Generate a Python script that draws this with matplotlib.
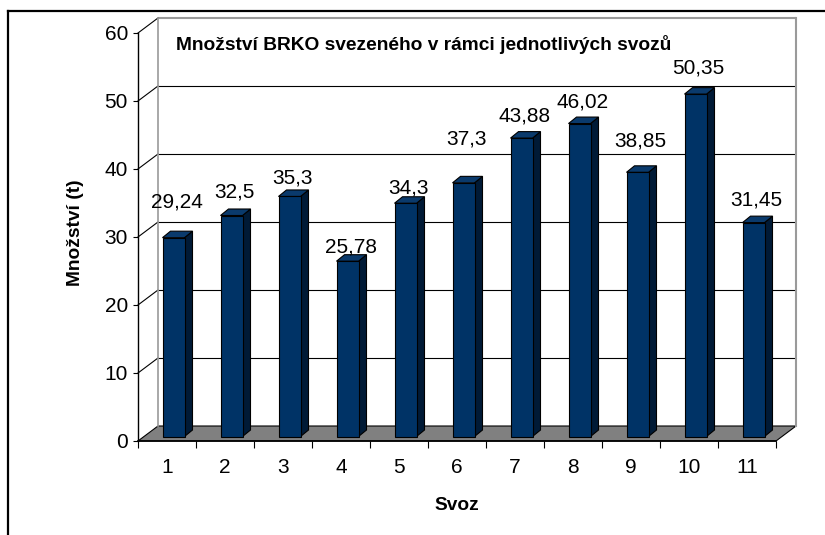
import matplotlib
matplotlib.use("Agg")
import matplotlib.pyplot as plt
from matplotlib.patches import Polygon
from matplotlib.lines import Line2D

# ---------------- data ----------------
categories = ["1", "2", "3", "4", "5", "6", "7", "8", "9", "10", "11"]
values = [29.24, 32.5, 35.3, 25.78, 34.3, 37.3, 43.88, 46.02, 38.85, 50.35, 31.45]
value_labels = ["29,24", "32,5", "35,3", "25,78", "34,3", "37,3", "43,88", "46,02", "38,85", "50,35", "31,45"]
y_ticks = [0, 10, 20, 30, 40, 50, 60]
title = "Množství BRKO svezeného v rámci jednotlivých svozů"
xlabel = "Svoz"
ylabel = "Množství (t)"

# label lift above bar front top (pixels), as placed in the original
label_lift_px = [30, 18.5, 13, 9, 10, 38, 17, 16, 26, 21, 17.6]

# ---------------- style / geometry ----------------
W, H = 825, 535
FONT = ["Liberation Sans", "DejaVu Sans"]
plt.rcParams["font.family"] = FONT
NUM_FS = 15

AX_L, AX_R, AX_T, AX_B = 138, 776, 33, 441   # pixel box of front axes
n = len(categories)
YMAX = 60
PX_PER_CAT = (AX_R - AX_L) / n
PX_PER_UNIT = (AX_B - AX_T) / YMAX


def dxp(p):
    return p / PX_PER_CAT


def dyp(p):
    return p / PX_PER_UNIT


WALL_DX, WALL_DY = 20, 15       # depth of the 3D box (px)
BAR_OFF_X, BAR_OFF_Y = 6.5, 4.5  # front of bar relative to front plane (px)
BAR_DX, BAR_DY = 8, 6.5         # bar depth (px)
BAR_W = 22                      # bar width (px)

FRONT = "#003366"
SIDE = "#001a36"
TOP = "#0a3a6c"
FLOOR = "#808080"
WALLEDGE = "#9a9a9a"

fig = plt.figure(figsize=(W / 100, H / 100), dpi=100)
ax = fig.add_axes([AX_L / W, (H - AX_B) / H, (AX_R - AX_L) / W, (AX_B - AX_T) / H])
ax.set_xlim(0.5, n + 0.5)
ax.set_ylim(0, YMAX)
ax.patch.set_visible(False)

x = list(range(1, n + 1))
wdx, wdy = dxp(WALL_DX), dyp(WALL_DY)

# floor
floor = Polygon([(0.5, 0), (n + 0.5, 0), (n + 0.5 + wdx, wdy), (0.5 + wdx, wdy)],
                closed=True, facecolor=FLOOR, edgecolor="black", lw=0.8,
                clip_on=False, zorder=1)
ax.add_patch(floor)

# back wall gridlines and side diagonals
for t in y_ticks:
    if t == 0:
        continue
    col = WALLEDGE if t == YMAX else "black"
    lw = 1.5 if t == YMAX else 0.8
    ax.plot([0.5 + wdx, n + 0.5 + wdx], [t + wdy, t + wdy], color=col, lw=lw,
            clip_on=False, zorder=2, solid_capstyle="butt")
    ax.plot([0.5, 0.5 + wdx], [t, t + wdy], color="black", lw=0.8, clip_on=False, zorder=2)
# wall vertical edges
ax.plot([0.5 + wdx, 0.5 + wdx], [wdy, YMAX + wdy], color=WALLEDGE, lw=1.2, clip_on=False, zorder=2)
ax.plot([n + 0.5 + wdx, n + 0.5 + wdx], [wdy, YMAX + wdy], color=WALLEDGE, lw=1.5, clip_on=False, zorder=2)

# bars (front faces)
bx = [xi + dxp(BAR_OFF_X) for xi in x]
base = dyp(BAR_OFF_Y)
bw = dxp(BAR_W)
ax.bar(bx, values, width=bw, bottom=base, color=FRONT, edgecolor="black", lw=0.8,
       zorder=5, clip_on=False)
bdx, bdy = dxp(BAR_DX), dyp(BAR_DY)
for xc, v in zip(bx, values):
    xl, xr = xc - bw / 2, xc + bw / 2
    side = Polygon([(xr, base), (xr + bdx, base + bdy), (xr + bdx, base + v + bdy), (xr, base + v)],
                   closed=True, facecolor=SIDE, edgecolor="black", lw=0.8, zorder=4, clip_on=False)
    top = Polygon([(xl, base + v), (xr, base + v), (xr + bdx, base + v + bdy), (xl + bdx, base + v + bdy)],
                  closed=True, facecolor=TOP, edgecolor="black", lw=0.8, zorder=4, clip_on=False)
    ax.add_patch(side)
    ax.add_patch(top)

# value labels
for xc, v, lab, lift in zip(bx, values, value_labels, label_lift_px):
    ax.annotate(lab, xy=(xc, base + v), xytext=(3 * 0.72, lift * 0.72),
                textcoords="offset points", ha="center", va="baseline",
                fontsize=NUM_FS, color="black", zorder=6)

# axes spines / ticks
for s in ["top", "right"]:
    ax.spines[s].set_visible(False)
ax.spines["left"].set_color("black")
ax.spines["bottom"].set_color("black")
ax.spines["left"].set_linewidth(1.0)
ax.spines["bottom"].set_linewidth(1.2)
ax.spines["left"].set_zorder(3)
ax.spines["bottom"].set_zorder(3)

ax.set_yticks(y_ticks)
ax.set_yticklabels([str(t) for t in y_ticks])
ax.tick_params(axis="y", direction="out", length=5 * 0.72, width=0.8, pad=5 * 0.72,
               labelsize=NUM_FS, colors="black")
ax.set_xticks(x)
ax.set_xticklabels(categories)
ax.tick_params(axis="x", which="major", length=0, pad=17 * 0.72, labelsize=NUM_FS)
ax.set_xticks([i + 0.5 for i in range(0, n + 1)], minor=True)
ax.tick_params(axis="x", which="minor", direction="out", length=7 * 0.72, width=0.8, colors="black")

# texts
fig.text(176 / W, 1 - 50 / H, title, ha="left", va="baseline", fontsize=13.8,
         fontweight="bold")
fig.text(457 / W, 1 - 505 / H, xlabel, ha="center", va="center", fontsize=13.8,
         fontweight="bold")
fig.text(75 / W, 1 - 233 / H, ylabel, ha="center", va="center", rotation=90,
         fontsize=13.8, fontweight="bold")

# outer border (cropped rectangle)
fig.add_artist(Line2D([8 / W, 1.0], [1 - 11 / H, 1 - 11 / H], transform=fig.transFigure,
                      color="black", lw=1.6))
fig.add_artist(Line2D([8 / W, 8 / W], [1 - 11 / H, 0.0], transform=fig.transFigure,
                      color="black", lw=1.6))

fig.savefig("out.png", dpi=100)
